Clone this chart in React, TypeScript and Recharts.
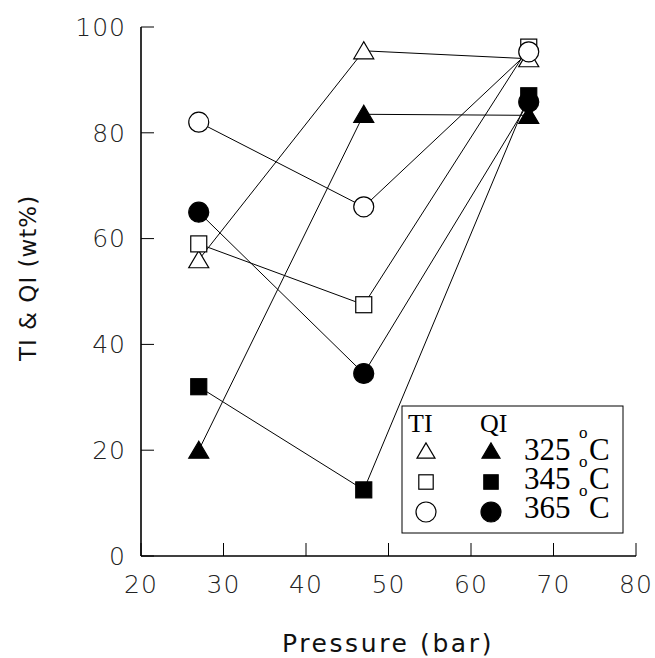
import { ScatterChart, Scatter, XAxis, YAxis } from "recharts";

const PRESSURE = [27, 47, 67];
const X_TICKS = [20, 30, 40, 50, 60, 70, 80];
const Y_TICKS = [0, 20, 40, 60, 80, 100];

const TI_325 = [56, 95.5, 94];
const QI_325 = [20, 83.5, 83.3];
const TI_345 = [59, 47.5, 96.2];
const QI_345 = [32, 12.5, 87];
const TI_365 = [82, 66, 95.3];
const QI_365 = [65, 34.5, 85.8];

const TEMPS = ["325", "345", "365"];

type Kind = "tri" | "sq" | "circ";

const SERIES: { name: string; values: number[]; kind: Kind; filled: boolean }[] = [
  { name: "TI 325", values: TI_325, kind: "tri", filled: false },
  { name: "QI 325", values: QI_325, kind: "tri", filled: true },
  { name: "TI 345", values: TI_345, kind: "sq", filled: false },
  { name: "QI 345", values: QI_345, kind: "sq", filled: true },
  { name: "TI 365", values: TI_365, kind: "circ", filled: false },
  { name: "QI 365", values: QI_365, kind: "circ", filled: true },
];

const SANS = "'DejaVu Sans', sans-serif";
const SERIF = "'Liberation Serif', 'Times New Roman', serif";

function Marker({ cx, cy, kind, filled, s = 1 }: { cx: number; cy: number; kind: Kind; filled: boolean; s?: number }) {
  const fill = filled ? "#000" : "#fff";
  const common = { fill, stroke: "#000", strokeWidth: 1.2 };
  if (kind === "tri") {
    const w = 10 * s;
    return <polygon points={`${cx},${cy - 9 * s} ${cx - w},${cy + 8 * s} ${cx + w},${cy + 8 * s}`} {...common} />;
  }
  if (kind === "sq") {
    const h = 8 * s;
    return <rect x={cx - h} y={cy - h} width={2 * h} height={2 * h} {...common} />;
  }
  return <circle cx={cx} cy={cy} r={10 * s} {...common} />;
}

const shapeFor = (kind: Kind, filled: boolean) => (props: any) => (
  <Marker cx={props.cx} cy={props.cy} kind={kind} filled={filled} />
);

function Legend() {
  const rows = [451, 482, 512];
  const base = [460, 489, 518];
  const kinds: Kind[] = ["tri", "sq", "circ"];
  return (
    <svg width={655} height={658} style={{ position: "absolute", left: 0, top: 0, pointerEvents: "none" }}>
      <rect x={402} y={406} width={221} height={127} fill="#fff" stroke="#000" strokeWidth={1} />
      <text x={408} y={432} fontFamily={SERIF} fontSize={26}>TI</text>
      <text x={480} y={432} fontFamily={SERIF} fontSize={26}>QI</text>
      {kinds.map((k, i) => (
        <g key={k}>
          <Marker cx={426} cy={rows[i]} kind={k} filled={false} s={k === "circ" ? 1 : 0.9} />
          <Marker cx={491} cy={rows[i]} kind={k} filled={true} s={k === "circ" ? 1 : 0.9} />
          <text x={524} y={base[i]} fontFamily={SERIF} fontSize={31}>{TEMPS[i]}</text>
          <text x={579} y={base[i] - 22} fontFamily={SERIF} fontSize={17}>o</text>
          <text x={589} y={base[i]} fontFamily={SERIF} fontSize={31}>C</text>
        </g>
      ))}
    </svg>
  );
}

const tickStyle = { fill: "#222", fontSize: 25, fontFamily: SANS, fontWeight: 200, letterSpacing: 1 };

export default function App() {
  return (
    <div style={{ position: "absolute", left: 0, top: 0, width: 655, height: 658, background: "#fff" }}>
      <ScatterChart width={655} height={658} margin={{ top: 27, right: 19, left: 81, bottom: 42 }}>
        <XAxis
          type="number"
          dataKey="p"
          domain={[20, 80]}
          ticks={X_TICKS}
          height={60}
          axisLine={{ stroke: "#000", strokeWidth: 1.6 }}
          tickLine={{ stroke: "#000" }}
          tickSize={-13}
          tickMargin={32}
          tick={tickStyle}
          label={{
            content: () => (
              <text x={388} y={652} textAnchor="middle" fontFamily={SANS} fontSize={25} letterSpacing={2.6} fill="#111">
                Pressure (bar)
              </text>
            ),
          }}
        />
        <XAxis
          xAxisId="top"
          orientation="top"
          type="number"
          dataKey="p"
          domain={[20, 80]}
          ticks={X_TICKS}
          height={0}
          axisLine={{ stroke: "#000", strokeWidth: 1.6 }}
          tickLine={{ stroke: "#000" }}
          tickSize={-13}
          tick={false}
        />
        <YAxis
          type="number"
          dataKey="v"
          domain={[0, 100]}
          ticks={Y_TICKS}
          width={60}
          axisLine={{ stroke: "#000", strokeWidth: 1.6 }}
          tickLine={{ stroke: "#000" }}
          tickSize={-13}
          tickMargin={28}
          tick={tickStyle}
          label={{
            content: () => (
              <text
                x={36}
                y={278}
                transform="rotate(-90 36 278)"
                textAnchor="middle"
                fontFamily={SANS}
                fontSize={23}
                letterSpacing={1}
                fill="#111"
              >
                TI &amp; QI (wt%)
              </text>
            ),
          }}
        />
        <YAxis
          yAxisId="right"
          orientation="right"
          type="number"
          dataKey="v"
          domain={[0, 100]}
          ticks={Y_TICKS}
          width={0}
          axisLine={{ stroke: "#000", strokeWidth: 1.6 }}
          tickLine={{ stroke: "#000" }}
          tickSize={-13}
          tick={false}
        />
        {SERIES.map((s) => (
          <Scatter
            key={s.name}
            name={s.name}
            data={PRESSURE.map((p, i) => ({ p, v: s.values[i] }))}
            line={{ stroke: "#000", strokeWidth: 1 }}
            lineType="joint"
            shape={shapeFor(s.kind, s.filled)}
            isAnimationActive={false}
          />
        ))}
      </ScatterChart>
      <Legend />
    </div>
  );
}
